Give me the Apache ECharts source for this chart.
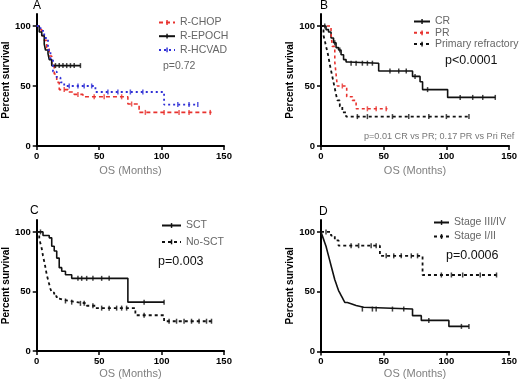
<!DOCTYPE html>
<html><head><meta charset="utf-8">
<script src="https://cdn.jsdelivr.net/npm/echarts@6/dist/echarts.min.js"></script>
<style>html,body{margin:0;padding:0;background:#fff}#c{width:520px;height:384px}</style>
</head><body><div id="c"></div>
<script>
// ---------- Panel A ----------
const aRchopT  = [0,2,4,6,8,10,12,14,16,18,25,30,37,73,82,140];
const aRchopS  = [100,97,92,88,82,75,68,60,53,47,45,43,41,35,28,28];
const aRchopC  = [[22,47],[33,43],[46,41],[54,41],[68,41],[76,35],[87,28],[102,28],[114,28],[122,28],[139,28]];
const aRepochT = [0,2,4,6,7,9,10,12,35];
const aRepochS = [100,95,92,85,80,77,72,67,67];
const aRepochC = [[15,67],[18,67],[21,67],[24,67],[27,67],[30,67],[35,67]];
const aRhcvadT = [0,3,6,9,11,13,16,19,22,47,102,129];
const aRhcvadS = [100,96,90,80,72,62,57,53,50,45,34.5,34.5];
const aRhcvadC = [[26,50],[33,50],[38,50],[44,50],[57,45],[65,45],[75,45],[85,45],[113,34.5],[122,34.5],[129,34.5]];
// ---------- Panel B ----------
const bCrT  = [0,4,6,8,10,12,14,16,18,20,22,46,73,79,81,101,139];
const bCrS  = [100,97,95,90,86,82,80,76,72,70,69,62.5,58,53.5,47,40.5,40.5];
const bCrC  = [[3,100],[11,86],[15,80],[24,69],[28,69],[33,69],[37,69],[41,69],[55,62.5],[62,62.5],[68,62.5],[75,58],[85,47],[111,40.5],[121,40.5],[129,40.5],[139,40.5]];
const bPrT  = [0,8,9,11,12,13,20.5,25,28,53];
const bPrS  = [100,94,83,70,60,50,41,38,31,31];
const bPrC  = [[17,50],[37,31],[44,31],[52,31]];
const bRefT = [0,2,3,4,5,6,7,8,9,10,11,12,13,15,17,20,118];
const bRefS = [100,92,88,83,79,74,68,63,58,53,48,43,38,33,28,24.5,24.5];
const bRefC = [[29,24.5],[37,24.5],[57,24.5],[70,24.5],[86,24.5],[100,24.5],[118,24.5]];
// ---------- Panel C ----------
const cSctT = [0,5,10,12,14,16,18,20,23,28,73,102];
const cSctS = [100,97,95,88,84,78,70,67,64,61,41,41];
const cSctC = [[3,100],[33,61],[36,61],[40,61],[45,61],[52,61],[58,61],[86,41],[102,41]];
const cNoT  = [0,2,3,4,5,6,7,8,9,10,11,12,14,16,18,21,26,32,40,47,79,102,140];
const cNoS  = [100,95,90,86,80,75,70,64,60,56,52,49,46,44,43,42,41,40,38,36,30,25,25];
const cNoC  = [[23,42],[28,41],[35,40],[38,40],[45,38],[52,36],[58,36],[64,36],[68,36],[72,36],[86,30],[106,25],[112,25],[118,25],[124,25],[130,25],[136,25],[140,25]];
// ---------- Panel D ----------
const dLateT = [0,1,2,3,4,5,6,7,8,9,10,11,12,13,14,15,16,17,18,19,21,24,28,34,73,80,102,118];
const dLateS = [100,97,94,91,88,84,80,76,72,68,64,60,57,54,51,49,47,45,43,41,40,38.5,37,35.5,30,26,21,21];
const dLateC = [[33,35.5],[41,35.5],[44,35.5],[57,35.5],[66,35.5],[86,26],[112,21],[118,21]];
const dEarlyT = [0,8,11,14,47,81,140];
const dEarlyS = [100,97,93,88.5,80,64,64];
const dEarlyC = [[4,100],[24,88.5],[30,88.5],[40,88.5],[44,88.5],[52,80],[58,80],[64,80],[72,80],[77,80],[96,64],[104,64],[113,64],[127,64],[140,64]];

const xTicks = [0,50,100,150];
const yTicks = [0,50,100];

const FONT = '"Liberation Sans", Arial, sans-serif';
const RED = '#e8322e', BLUE = '#2f2fd6', BLK = '#111';
// thin vertical tick centred in a wider invisible box (for legend icons)
const TICK = 'path://M0,0M10,20M4.3,5h1.5v10h-1.5z';

const grids = [
  {left:34,  top:14,  width:190, height:132},
  {left:321, top:14,  width:192, height:132},
  {left:34,  top:220, width:190, height:131},
  {left:321, top:220, width:192, height:131.5}
];
const xNameGap = [19,19,17,17];

function zip(t,s){ return t.map((v,i)=>[v,s[i]]); }

const xAxis = grids.map((g,i)=>({
  gridIndex:i, type:'value', min:0, max:150,
  name:'OS (Months)', nameLocation:'middle', nameGap:xNameGap[i],
  nameTextStyle:{color:'#808080', fontSize:11, fontFamily:FONT},
  axisLine:{lineStyle:{color:'#000', width:2}},
  axisTick:{show:true, length:4, lineStyle:{color:'#000', width:1.5}, customValues:xTicks},
  axisLabel:{color:'#000', fontSize:9.5, fontWeight:'bold', fontFamily:FONT, margin:5, customValues:xTicks},
  splitLine:{show:false}
}));
const yAxis = grids.map((g,i)=>({
  gridIndex:i, type:'value', min:0, max:110,
  name:'Percent survival', nameLocation:'middle', nameGap:22,
  nameTextStyle:{color:'#000', fontSize:10, fontWeight:'bold', fontFamily:FONT},
  axisLine:{show:true, lineStyle:{color:'#000', width:2}},
  axisTick:{show:true, length:4, lineStyle:{color:'#000', width:1.5}, customValues:yTicks},
  axisLabel:{color:'#000', fontSize:9.5, fontWeight:'bold', fontFamily:FONT, margin:6, customValues:yTicks},
  splitLine:{show:false}
}));

const series = [];
function km(name, idx, t, s, c, color, type, width){
  series.push({
    name, type:'line', xAxisIndex:idx, yAxisIndex:idx, step:'end',
    data: zip(t,s), symbol:TICK, symbolSize:5, showSymbol:false, animation:false,
    lineStyle:{color, width, type}, itemStyle:{color}, z:3
  });
  series.push({
    name: name+' censored', type:'scatter', xAxisIndex:idx, yAxisIndex:idx,
    data: c, symbol:'rect', symbolSize:[1.5,5], animation:false,
    itemStyle:{color}, z:4, silent:true
  });
}
km('R-CHOP', 0, aRchopT, aRchopS, aRchopC, RED, [4,3], 1.6);
km('R-EPOCH', 0, aRepochT, aRepochS, aRepochC, BLK, 'solid', 1.6);
km('R-HCVAD', 0, aRhcvadT, aRhcvadS, aRhcvadC, BLUE, [2,3], 1.8);
km('CR', 1, bCrT, bCrS, bCrC, BLK, 'solid', 1.6);
km('PR', 1, bPrT, bPrS, bPrC, RED, [3,3], 1.6);
km('Primary refractory', 1, bRefT, bRefS, bRefC, BLK, [3,3], 1.8);
km('SCT', 2, cSctT, cSctS, cSctC, BLK, 'solid', 1.6);
km('No-SCT', 2, cNoT, cNoS, cNoC, BLK, [3,3], 1.8);
km('Stage III/IV', 3, dLateT, dLateS, dLateC, BLK, 'solid', 1.6);
km('Stage I/II', 3, dEarlyT, dEarlyS, dEarlyC, BLK, [3,3], 1.8);

function leg(data, left, top, gap, iw){
  return {data, left, top, orient:'vertical', itemGap:gap, itemWidth:iw, itemHeight:12,
    selectedMode:false, padding:0,
    textStyle:{color:'#666', fontSize:10.5, fontFamily:FONT, padding:[0,0,0,0]}};
}
const legends = [
  leg(['R-CHOP','R-EPOCH','R-HCVAD'], 158, 17, 2.7, 16),
  leg(['CR','PR','Primary refractory'], 413, 16, 0.3, 16),
  leg(['SCT','No-SCT'], 161, 220, 5.4, 19),
  leg(['Stage III/IV','Stage I/II'], 433, 217, 3, 15)
];

function txt(text, x, y, size, color, weight){
  return {type:'text', left:x, top:y - size*0.6, style:{text, fill:color, font:(weight||'normal')+' '+size+'px '+FONT}};
}
const graphic = [
  txt('A', 33, 7, 12, '#000'),
  txt('B', 320, 7, 12, '#000'),
  txt('C', 30, 212, 12, '#000'),
  txt('D', 319, 212.5, 12, '#000'),
  txt('p=0.72', 163, 67, 10.5, '#666'),
  txt('p<0.0001', 445, 62, 12.5, '#111'),
  txt('p=0.01 CR vs PR; 0.17 PR vs Pri Ref', 364, 137, 9.1, '#777'),
  txt('p=0.003', 158, 263, 12.5, '#111'),
  txt('p=0.0006', 446, 257, 12.5, '#111')
];

const chart = echarts.init(document.getElementById('c'), null, {renderer:'canvas'});
chart.setOption({
  animation:false, backgroundColor:'#fff',
  grid: grids, xAxis, yAxis, series, legend: legends, graphic
});
</script></body></html>
